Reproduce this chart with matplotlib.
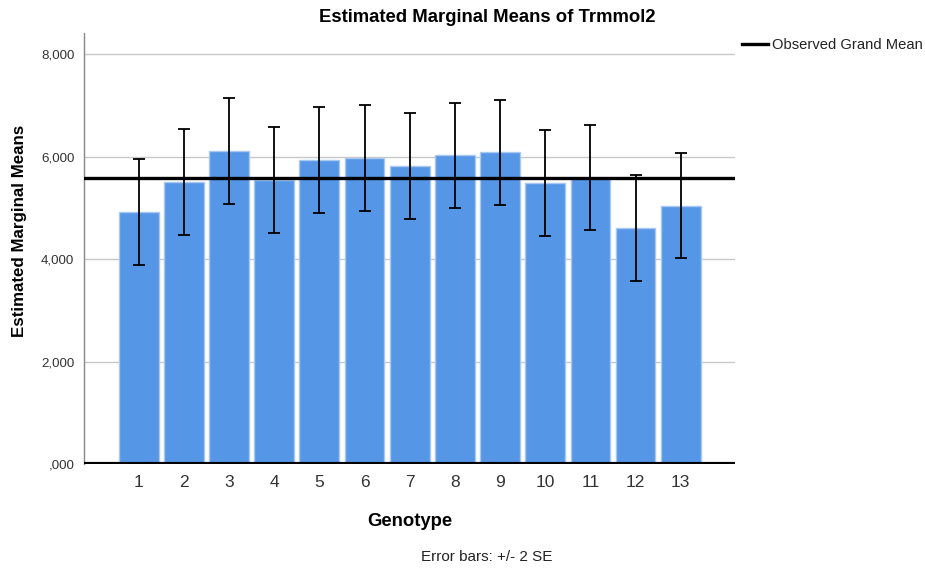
import numpy as np
import matplotlib
matplotlib.use("Agg")
import matplotlib.pyplot as plt
from matplotlib.ticker import FuncFormatter

plt.rcParams["font.family"] = ["Liberation Sans", "DejaVu Sans"]

# Estimated marginal means of Trmmol2 per genotype, with +/- 2 SE
genotypes = [str(g) for g in range(1, 14)]
means = [4920, 5500, 6110, 5545, 5930, 5965, 5820, 6020, 6080, 5485, 5590, 4605, 5040]
two_se = [1035, 1035, 1035, 1035, 1030, 1035, 1030, 1030, 1030, 1035, 1030, 1035, 1030]
grand_mean = 5580

fig = plt.figure(figsize=(9.25, 5.71), dpi=100)
ax = fig.add_axes([84 / 925, 1 - 464 / 571, (735 - 84) / 925, (464 - 33) / 571])

x = np.arange(1, len(genotypes) + 1)
ax.bar(x, means, width=0.88, color="#5596e6", edgecolor="#a9c8f0", linewidth=1, zorder=2)
ax.errorbar(x, means, yerr=two_se, fmt="none", ecolor="black", elinewidth=1.3,
            capsize=4.3, capthick=1.3, zorder=3)
gm = ax.axhline(grand_mean, color="black", linewidth=2.4, zorder=4)
ax.axhline(0, color="black", linewidth=3.0, zorder=5)

ax.set_xlim(-0.21, 14.2)
ax.set_ylim(0, 8410)
ax.set_xticks(x)
ax.set_xticklabels(genotypes)
ax.set_yticks([0, 2000, 4000, 6000, 8000])
ax.yaxis.set_major_formatter(FuncFormatter(lambda v, p: ",000" if v == 0 else f"{v:,.0f}"))
ax.tick_params(axis="x", length=0, labelsize=12.5, colors="#333333", pad=8)
ax.tick_params(axis="y", length=0, labelsize=9.6, colors="#333333", pad=7)

for v in [2000, 4000, 6000, 8000]:
    ax.axhline(v, color="#c8c8c8", linewidth=1, zorder=1)

for s in ["top", "right", "bottom"]:
    ax.spines[s].set_visible(False)
ax.spines["left"].set_color("#888888")
ax.spines["left"].set_linewidth(1)

fig.text(487 / 925, 1 - 18 / 571, "Estimated Marginal Means of Trmmol2", ha="center", va="center",
         fontsize=13.3, fontweight="bold")
fig.text(20 / 925, 1 - 231 / 571, "Estimated Marginal Means", ha="center", va="center",
         rotation=90, fontsize=12.2, fontweight="bold")
fig.text(410 / 925, 1 - 521 / 571, "Genotype", ha="center", va="center",
         fontsize=13.3, fontweight="bold")
fig.text(487 / 925, 1 - 557 / 571, "Error bars: +/- 2 SE", ha="center", va="center",
         fontsize=11, color="#222222")

fig.legend([gm], ["Observed Grand Mean"], loc="center left", bbox_to_anchor=(729 / 925, 1 - 45 / 571),
           frameon=False, fontsize=10.6, handlelength=1.75, handletextpad=0.25,
           labelcolor="#222222")

fig.savefig("out.png", dpi=100)
